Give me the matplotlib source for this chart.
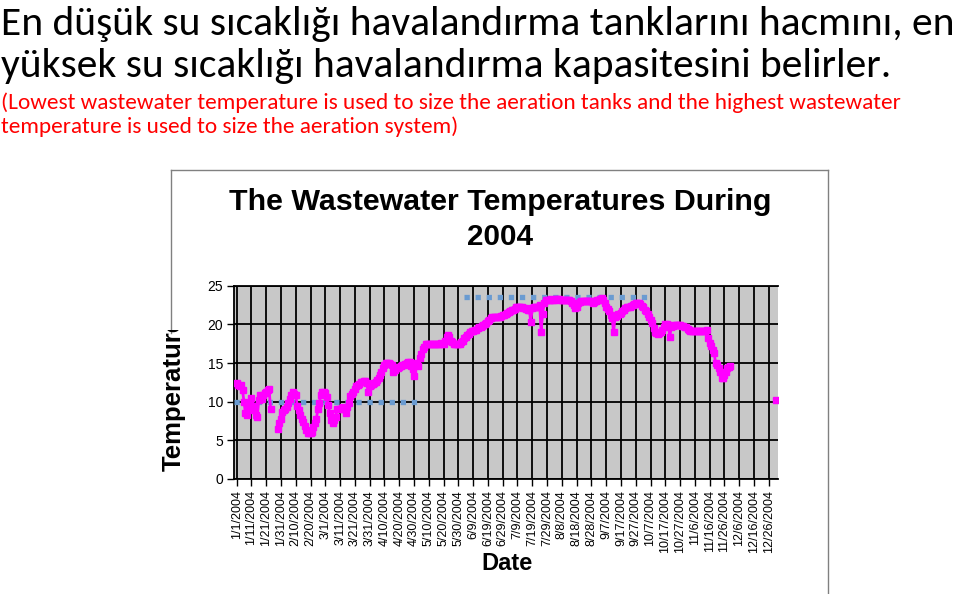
import numpy as np
import pandas as pd
import matplotlib
matplotlib.use('Agg')
import matplotlib.pyplot as plt
from matplotlib import font_manager
from matplotlib.transforms import Bbox

W, H = 959, 594

heading = ["En düşük su sıcaklığı havalandırma tanklarını hacmını, en",
           "yüksek su sıcaklığı havalandırma kapasitesini belirler."]
note = ["(Lowest wastewater temperature is used to size the aeration tanks and the highest wastewater",
        "temperature is used to size the aeration system)"]
chart_title = ["The Wastewater Temperatures During", "2004"]

# daily wastewater temperature 2004 (None = no reading)
temps = [
    12.4, 12.2, 12.0, 12.1, 11.5, 10.0, 8.5, 8.3, 9.0, 9.8,
    10.5, 9.4, 8.9, 8.3, 8.0, 10.2, 10.9, 10.4, 10.8, 11.1,
    11.3, 11.5, 11.6, 9.1, None, None, None, None, 6.5, 7.3,
    7.8, 8.7, 8.9, 9.1, 9.3, 9.8, 10.4, 10.9, 11.2, 11.0,
    10.9, 9.5, 8.9, 8.3, 7.8, 7.4, 6.8, 6.3, 6.0, 5.9,
    6.0, 6.1, 6.7, 7.3, 7.8, 9.1, 9.8, 10.9, 11.2, 11.3,
    11.1, 10.6, 9.6, 8.5, 7.6, 7.2, 7.6, 8.0, 9.1, 9.1,
    9.1, 9.2, 9.3, 9.1, 8.5, 9.3, 9.8, 10.7, 11.0, 11.3,
    11.7, 12.0, 12.2, 12.3, 12.5, 12.6, 12.7, 12.7, 12.4, 11.3,
    12.0, 12.2, 12.3, 12.4, 12.6, 12.8, 13.0, 13.5, 13.9, 14.3,
    14.8, 15.0, 15.0, 15.0, 14.9, 14.8, 13.9, 14.1, 14.3, 14.4,
    14.5, 14.6, 14.7, 14.8, 14.9, 15.0, 15.1, 15.1, 14.6, 14.2,
    13.3, 14.9, 15.0, 14.6, 15.7, 16.2, 16.8, 17.1, 17.4, 17.5,
    17.5, 17.5, 17.5, 17.5, 17.4, 17.5, 17.5, 17.5, 17.6, 17.5,
    17.5, 17.9, 18.4, 18.6, 18.4, 17.9, 17.7, 17.5, 17.5, 17.5,
    17.5, 17.5, 17.7, 17.9, 18.2, 18.4, 18.6, 18.8, 19.0, 19.2,
    19.2, 19.3, 19.3, 19.5, 19.6, 19.7, 19.8, 19.9, 20.0, 20.2,
    20.4, 20.6, 20.8, 20.9, 21.0, 21.0, 21.0, 21.0, 21.0, 21.1,
    21.2, 21.2, 21.3, 21.5, 21.6, 21.7, 21.8, 21.9, 22.0, 22.2,
    22.3, 22.3, 22.3, 22.2, 22.1, 22.1, 22.0, 21.9, 21.9, 20.3,
    22.1, 22.2, 22.2, 22.3, 22.3, 22.5, 19.0, 21.4, 22.7, 23.2,
    23.2, 23.2, 23.2, 23.3, 23.2, 23.2, 23.3, 23.3, 23.3, 23.2,
    23.2, 23.2, 23.2, 23.1, 23.1, 23.1, 23.0, 22.8, 22.5, 22.1,
    22.3, 22.7, 22.9, 23.0, 23.0, 23.0, 23.0, 23.0, 23.0, 23.0,
    23.0, 22.7, 22.9, 23.0, 23.1, 23.2, 23.3, 23.4, 23.1, 22.8,
    22.3, 22.0, 21.7, 21.2, 20.8, 19.0, 21.0, 21.1, 21.3, 21.4,
    21.5, 21.7, 21.9, 22.1, 22.2, 22.3, 22.3, 22.4, 22.5, 22.6,
    22.7, 22.8, 22.8, 22.6, 22.4, 22.2, 21.9, 21.7, 21.3, 21.0,
    20.6, 20.2, 19.5, 19.0, 18.9, 18.8, 18.9, 19.0, 19.3, 19.7,
    20.1, 20.0, 19.9, 18.4, 19.7, 19.8, 19.9, 19.9, 19.9, 19.9,
    19.9, 19.8, 19.8, 19.7, 19.7, 19.4, 19.3, 19.2, 19.1, 19.1,
    19.1, 19.1, 19.1, 19.1, 19.1, 19.1, 19.1, 19.2, 19.3, 18.2,
    17.6, 17.2, 16.7, 16.3, 15.0, 14.7, 14.3, 13.9, 13.0, 13.0,
    13.5, 13.9, 14.3, 14.5, 14.6,
] + [None] * 30 + [10.2]

# design temperatures (min / max lines)
low_dates = ['2003-12-30', '2004-05-03']
low_temp = [10.0, 10.0]
high_dates = ['2004-06-03', '2004-10-06']
high_temp = [23.6, 23.6]

tick_dates = pd.date_range('2004-01-01', '2004-12-31', freq='10D')
tick_labels = [f'{d.month}/{d.day}/{d.year}' for d in tick_dates]


def head_font():
    # something Calibri-like and narrow if it is around, else Lato
    fl = font_manager.fontManager.ttflist
    names = {f.name for f in fl}
    for c in ['Carlito', 'Liberation Sans Narrow', 'Roboto Condensed',
              'Open Sans Condensed', 'Noto Sans Condensed', 'Noto Sans SemiCondensed']:
        if c in names:
            return {'family': c}
    for f in fl:
        if f.name in ('Noto Sans', 'Open Sans', 'Roboto') and str(f.stretch) in ('semi-condensed', 'condensed'):
            return {'family': f.name, 'stretch': f.stretch}
    return {'family': 'Lato'}


def fit_text(fig, x, y, s, width, **kw):
    # place text at pixel position and scale it to the wanted pixel width
    t = fig.text(x / W, 1 - y / H, s, **kw)
    r = fig.canvas.get_renderer()
    w = t.get_window_extent(r).width
    t.set_fontsize(t.get_fontsize() * width / w)
    return t


def main():
    fig = plt.figure(figsize=(W / 100, H / 100), dpi=100)
    hf = head_font()

    t1 = fit_text(fig, 1, 35, heading[0], 954, fontsize=30, va='baseline', **hf)
    fig.text(1 / W, 1 - 77 / H, heading[1], fontsize=t1.get_fontsize(), va='baseline', **hf)
    n1 = fit_text(fig, 1, 109, note[0], 899, fontsize=16, color='#FF0000', va='baseline', **hf)
    fig.text(1 / W, 1 - 133 / H, note[1], fontsize=n1.get_fontsize(), color='#FF0000',
             va='baseline', **hf)

    # chart frame
    edge = '#808080'
    fig.add_artist(plt.Line2D([171 / W, 828 / W], [1 - 170 / H, 1 - 170 / H], color=edge, lw=1))
    fig.add_artist(plt.Line2D([828 / W, 828 / W], [1 - 170 / H, 0], color=edge, lw=1))
    fig.add_artist(plt.Line2D([171 / W, 171 / W], [1 - 170 / H, 1 - 333 / H], color=edge, lw=1))

    fit_text(fig, 500, 210, chart_title[0], 544, family='Liberation Sans', weight='bold',
             fontsize=17, ha='center', va='baseline')
    fit_text(fig, 500, 245, chart_title[1], 66, family='Liberation Sans', weight='bold',
             fontsize=17, ha='center', va='baseline')

    ax = fig.add_axes([234 / W, 1 - 479 / H, (777.7 - 234) / W, (479 - 285.7) / H])
    ax.set_facecolor('#C8C8C8')

    days = pd.date_range('2004-01-01', periods=len(temps))
    vals = np.array([np.nan if v is None else v for v in temps])

    ax.plot(pd.to_datetime(low_dates), low_temp, color='#6A9BD1', lw=3.8,
            dashes=(1, 1.1), dash_capstyle='butt', zorder=3)
    ax.plot(pd.to_datetime(high_dates), high_temp, color='#6A9BD1', lw=3.8,
            dashes=(1, 1.1), dash_capstyle='butt', zorder=3)
    ax.plot(days, vals, color='#FF00FF', lw=2, marker='s', ms=4.2, mec='#FF00FF', zorder=4)

    ax.set_xlim(pd.Timestamp('2003-12-30 06:00'), pd.Timestamp('2005-01-01'))
    ax.set_ylim(0, 25)
    ax.set_yticks([0, 5, 10, 15, 20, 25])
    ax.set_xticks(tick_dates)
    ax.set_xticklabels(tick_labels, rotation=90, family='Liberation Sans', fontsize=9)
    for lab in ax.get_yticklabels():
        lab.set_family('Liberation Sans')
        lab.set_fontsize(10)
    ax.tick_params(direction='out', length=5, width=1, color='black', pad=3)
    ax.grid(True, color='black', lw=1.3)
    ax.set_axisbelow(True)
    for s in ['left', 'bottom', 'top']:
        ax.spines[s].set_color('black')
        ax.spines[s].set_linewidth(1.3)
    ax.spines['right'].set_visible(False)

    fig.text(507 / W, 1 - 563 / H, 'Date', family='Liberation Sans', weight='bold',
             fontsize=17, ha='center', va='center')

    yl = fig.text(174 / W, 1 - 471 / H, 'Temperature', family='Liberation Sans',
                  weight='bold', fontsize=18.5, rotation=90, ha='center', va='bottom')
    yl.set_clip_box(Bbox.from_extents(0, 0, W, H - 330))
    yl.set_clip_on(True)

    plt.savefig('out.png', dpi=100)


if __name__ == '__main__':
    main()
